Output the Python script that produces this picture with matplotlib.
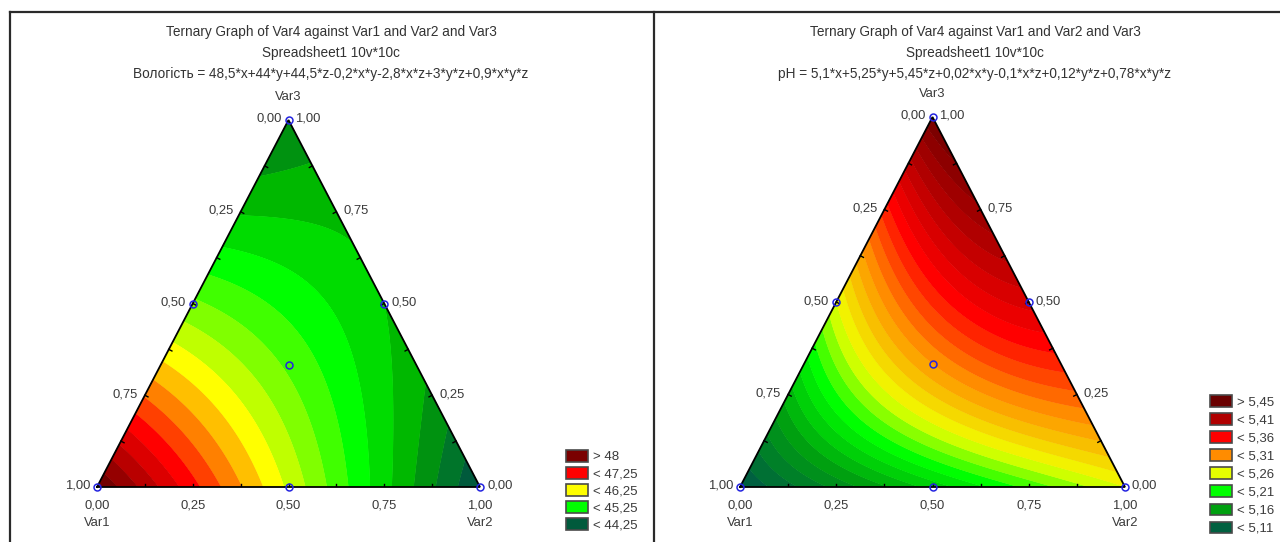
import numpy as np
import matplotlib
matplotlib.use("Agg")
import matplotlib.pyplot as plt
import matplotlib.tri as mtri
from matplotlib.colors import to_rgb
from matplotlib.patches import Patch
from matplotlib.lines import Line2D

plt.rcParams['font.family'] = ['Liberation Sans', 'DejaVu Sans']

# ---------------- data ----------------
# fitted mixture models: terms x, y, z, x*y, x*z, y*z, x*y*z  (x=Var1, y=Var2, z=Var3)
model_terms = ["x", "y", "z", "x*y", "x*z", "y*z", "x*y*z"]
moisture_coef = [48.5, 44.0, 44.5, -0.2, -2.8, 3.0, 0.9]
ph_coef = [5.1, 5.25, 5.45, 0.02, -0.1, 0.12, 0.78]

moisture_levels = [44.0, 44.25, 44.5, 44.75, 45.0, 45.25, 45.5, 45.75, 46.0,
                   46.25, 46.5, 46.75, 47.0, 47.25, 47.5, 47.75, 48.0, 48.25, 48.5]
ph_levels = [5.1, 5.1125, 5.125, 5.1375, 5.15, 5.1625, 5.175, 5.1875, 5.2,
             5.2125, 5.225, 5.2375, 5.25, 5.2625, 5.275, 5.2875, 5.3, 5.3125,
             5.325, 5.3375, 5.35, 5.3625, 5.375, 5.3875, 5.4, 5.4125, 5.425,
             5.4375, 5.45, 5.4625]

moisture_legend_labels = ["> 48", "< 47,25", "< 46,25", "< 45,25", "< 44,25"]
moisture_legend_colors = ["#7a0000", "#ff0000", "#ffff00", "#00ff00", "#005a3c"]
# colour ramp for the contour bands (band index -> colour)
moisture_ramp_idx = [0, 1, 2, 3, 5, 9, 13, 17]
moisture_ramp_cols = ["#005a3c", "#00752a", "#009210", "#00b800", "#00ff00",
                      "#ffff00", "#ff0000", "#720000"]

ph_legend_labels = ["> 5,45", "< 5,41", "< 5,36", "< 5,31", "< 5,26",
                    "< 5,21", "< 5,16", "< 5,11"]
ph_legend_colors = ["#6a0000", "#b00000", "#ff0000", "#ff8c00", "#e6ff00",
                    "#00ff00", "#00a010", "#006040"]
ph_ramp_idx = [0, 4, 8, 11.5, 16, 20, 24, 28]
ph_ramp_cols = ["#006040", "#00a010", "#00ff00", "#f0ff00", "#ff8c00",
                "#ff0000", "#b00000", "#6a0000"]

design_var1 = [1.0, 0.0, 0.0, 0.5, 0.5, 0.0, 1 / 3]
design_var2 = [0.0, 1.0, 0.0, 0.5, 0.0, 0.5, 1 / 3]
design_var3 = [0.0, 0.0, 1.0, 0.0, 0.5, 0.5, 1 / 3]

axis_ticks = [0.0, 0.25, 0.5, 0.75, 1.0]
axis_tick_labels = ["0,00", "0,25", "0,50", "0,75", "1,00"]
minor_ticks = [0.125, 0.25, 0.375, 0.5, 0.625, 0.75, 0.875]

title_main = "Ternary Graph of Var4 against Var1 and Var2 and Var3"
title_sub = "Spreadsheet1 10v*10c"
moisture_eq = "Вологість = 48,5*x+44*y+44,5*z-0,2*x*y-2,8*x*z+3*y*z+0,9*x*y*z"
ph_eq = "pH = 5,1*x+5,25*y+5,45*z+0,02*x*y-0,1*x*z+0,12*y*z+0,78*x*y*z"

# ---------------- helpers ----------------
W, H_PX = 1280, 542
DPI = 100
H = np.sqrt(3) / 2
TXT = "#333333"


def model(c, x, y, z):
    return (c[0] * x + c[1] * y + c[2] * z + c[3] * x * y + c[4] * x * z
            + c[5] * y * z + c[6] * x * y * z)


def band_colors(n_bands, anchor_idx, anchor_cols):
    ai = np.array(anchor_idx, dtype=float)
    ac = np.array([to_rgb(c) for c in anchor_cols])
    return [tuple(np.interp(b, ai, ac[:, ch]) for ch in range(3))
            for b in range(n_bands)]


def px(dx, dy):
    return (dx * 72 / DPI, dy * 72 / DPI)


fig = plt.figure(figsize=(W / DPI, H_PX / DPI), dpi=DPI)


def panel(x0, xw, ybot, yh, coef, levels, ramp_idx, ramp_cols, leg_labels,
          leg_cols, eq, title_cx, leg_x, leg_top, leg_spacing, title_fs):
    ax = fig.add_axes([x0 / W, 1 - ybot / H_PX, xw / W, yh / H_PX])
    ax.set_xlim(0, 1)
    ax.set_ylim(0, H)
    ax.axis("off")

    n = 160
    zz, yy = np.meshgrid(np.arange(n + 1) / n, np.arange(n + 1) / n)
    m = zz + yy <= 1 + 1e-9
    z = zz[m]
    y = yy[m]
    x = np.clip(1 - y - z, 0, 1)
    X = y + z / 2
    Y = z * H
    val = model(coef, x, y, z)
    tri = mtri.Triangulation(X, Y)
    cols = band_colors(len(levels) - 1, ramp_idx, ramp_cols)
    for _ in range(2):
        ax.tricontourf(tri, val, levels=levels, colors=cols, antialiased=True)

    # triangle outline
    ax.plot([0, 1, 0.5, 0], [0, 0, H, 0], color="black", lw=1.3,
            clip_on=False, solid_joinstyle="miter", zorder=5)

    # small inward ticks
    sx, sy = xw, yh / H
    edges = [((0, 0), (1, 0)), ((0, 0), (0.5, H)), ((1, 0), (0.5, H))]
    cen = np.array([0.5, H / 3])
    L = 3.5
    for a, b in edges:
        a = np.array(a); b = np.array(b)
        for t in minor_ticks:
            p = a + (b - a) * t
            d = (cen - p) * np.array([sx, sy])
            ed = (b - a) * np.array([sx, sy])
            nrm = np.array([-ed[1], ed[0]])
            if np.dot(nrm, d) < 0:
                nrm = -nrm
            nrm = nrm / np.linalg.norm(nrm) * L
            ax.plot([p[0], p[0] + nrm[0] / sx], [p[1], p[1] + nrm[1] / sy],
                    color="black", lw=1.0, zorder=5)

    tk = dict(fontsize=9.4, color="#3a3a3a", va="center",
              textcoords="offset points", annotation_clip=False)
    # bottom axis: Var2
    for v, lab in zip(axis_ticks, axis_tick_labels):
        ax.annotate(lab, (v, 0), xytext=px(0, -18), ha="center", **tk)
    # left axis: Var1 (1 at bottom-left)
    for v, lab in zip(axis_ticks, axis_tick_labels):
        ax.annotate(lab, ((1 - v) / 2, (1 - v) * H), xytext=px(-7, 1),
                    ha="right", **tk)
    # right axis: Var3 (1 at top)
    for v, lab in zip(axis_ticks, axis_tick_labels):
        ax.annotate(lab, (1 - v / 2, v * H), xytext=px(7, 1), ha="left", **tk)
    ax.annotate("Var1", (0, 0), xytext=px(0, -36), ha="center", **tk)
    ax.annotate("Var2", (1, 0), xytext=px(0, -36), ha="center", **tk)
    ax.annotate("Var3", (0.5, H), xytext=px(0, 23), ha="center", **tk)

    # design points
    d2 = np.array(design_var2); d3 = np.array(design_var3)
    ax.plot(d2 + d3 / 2, d3 * H, "o", mfc="none", mec="#2424e0", ms=5,
            mew=1.1, clip_on=False, zorder=6)

    # titles
    for txt, yy_ in zip([title_main, title_sub, eq], [32, 53, 74]):
        fig.text(title_cx / W, 1 - yy_ / H_PX, txt, ha="center", va="center",
                 fontsize=title_fs, color=TXT)

    # legend
    handles = [Patch(facecolor=c, edgecolor="#4a4a4a", linewidth=1.2)
               for c in leg_cols]
    fs = 9.5
    fpx = fs * DPI / 72
    fig.legend(handles, leg_labels, loc="upper left",
               bbox_to_anchor=(leg_x / W, 1 - leg_top / H_PX),
               frameon=False, fontsize=fs, handlelength=22 / fpx,
               handleheight=13 / fpx, handletextpad=0.35,
               labelspacing=(leg_spacing - 13) / fpx * 0.75,
               borderpad=0, borderaxespad=0, labelcolor="#3a3a3a")
    return ax


panel(97, 383, 487, 367, moisture_coef, moisture_levels, moisture_ramp_idx,
      moisture_ramp_cols, moisture_legend_labels, moisture_legend_colors,
      moisture_eq, 331, 566, 450, 18, 9.8)
panel(740, 385, 487, 370, ph_coef, ph_levels, ph_ramp_idx, ph_ramp_cols,
      ph_legend_labels, ph_legend_colors, ph_eq, 975, 1210, 395, 19.3, 9.8)

# frame lines
for xs, ys in [((10, 1280), (12, 12)), ((10, 10), (12, 542)),
               ((654, 654), (12, 542))]:
    fig.add_artist(Line2D([x / W for x in xs], [1 - y / H_PX for y in ys],
                          color="#2a2a2a", lw=1.6, transform=fig.transFigure))

fig.savefig("out.png", dpi=DPI)
